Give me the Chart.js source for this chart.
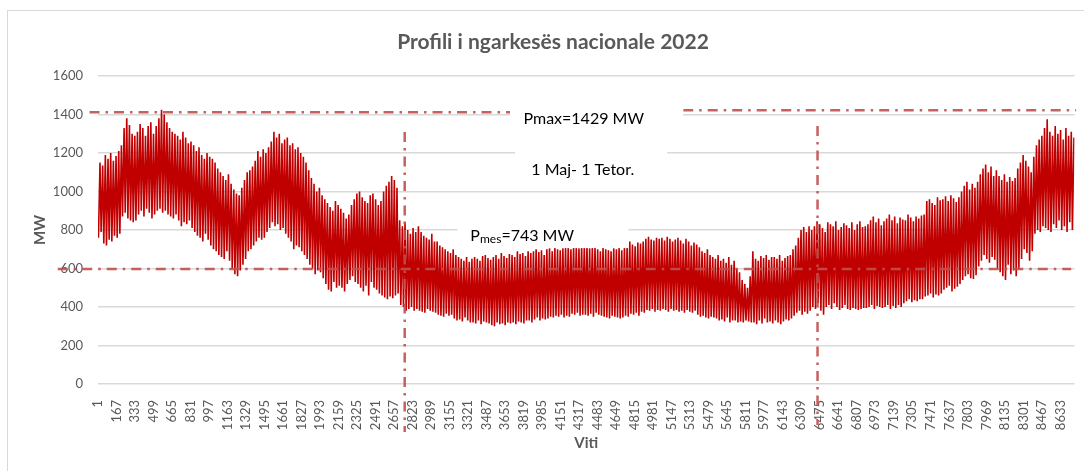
<!DOCTYPE html>
<html>
<head>
<meta charset="utf-8">
<script src="https://cdn.jsdelivr.net/npm/chart.js@4.4.1/dist/chart.umd.min.js"></script>
<style>
  html, body { margin: 0; padding: 0; background: #fff; }
  #chart { display: block; }
</style>
</head>
<body>
<canvas id="chart" width="1084" height="471"></canvas>
<script>
// --- Data: daily evening peak and night minimum, MW ---
const dailyPeak = [
  1150,1135,1190,1170,1200,1160,1185,
  1210,1240,1330,1380,1345,1300,1290,
  1310,1350,1330,1290,1340,1360,1300,
  1340,1380,1425,1400,1360,1330,1310,
  1300,1290,1270,1310,1280,1250,1260,
  1240,1210,1230,1190,1170,1200,1180,
  1170,1150,1120,1100,1080,1060,1090,
  1040,1010,990,980,1020,1060,1100,
  1110,1130,1160,1210,1180,1220,1200,
  1230,1260,1310,1280,1300,1250,1270,
  1280,1240,1250,1220,1230,1200,1180,
  1150,1110,1070,1040,1000,1020,980,
  960,940,920,900,950,930,910,
  890,860,880,930,960,990,1000,
  970,950,940,980,990,960,930,
  950,1000,1030,1050,1080,1060,1020,
  850,820,840,800,780,810,790,
  820,790,770,760,750,780,740,
  740,720,710,700,690,680,700,
  670,660,650,640,660,635,650,
  660,650,640,665,670,655,645,
  660,670,650,680,665,655,675,
  670,660,690,675,680,665,690,
  680,690,700,685,695,670,700,
  705,690,710,700,695,705,710,
  715,700,720,710,705,720,715,
  720,705,710,715,700,690,710,
  700,695,690,705,700,710,695,
  710,720,740,725,715,735,730,
  740,755,765,750,745,760,755,
  760,745,765,755,740,750,760,
  745,730,755,740,720,735,725,
  710,690,680,700,670,660,650,
  670,640,650,630,660,620,640,
  600,580,540,520,500,560,690,
  650,640,665,655,670,645,660,
  660,650,670,640,655,665,670,
  700,720,760,800,815,790,820,
  800,820,845,830,810,790,840,
  830,820,845,800,815,835,825,
  810,840,800,830,845,815,820,
  830,850,870,840,860,825,845,
  860,880,850,870,835,865,855,
  850,880,865,845,870,860,875,
  880,950,960,940,930,970,955,
  960,975,950,980,965,945,970,
  1000,1030,1050,1010,1040,1020,1050,
  1090,1120,1140,1100,1130,1080,1110,
  1080,1060,1090,1050,1075,1055,1070,
  1120,1150,1190,1160,1130,1100,1180,
  1240,1270,1290,1330,1375,1310,1290,
  1340,1300,1320,1270,1330,1290,1310,
  1280
];

const dailyLow = [
  760,790,730,720,750,740,770,
  760,780,870,890,860,850,840,
  850,880,900,870,910,890,860,
  880,900,910,890,900,880,870,
  860,880,850,820,840,830,850,
  810,790,770,760,740,780,750,
  720,700,690,670,660,650,690,
  640,600,570,560,590,620,650,
  690,700,720,740,760,750,760,
  790,810,840,820,830,800,810,
  780,760,740,700,720,710,690,
  670,650,620,600,570,590,580,
  550,520,490,480,530,500,510,
  500,480,520,540,560,530,520,
  500,480,510,460,530,500,490,
  470,460,450,440,455,445,460,
  470,410,400,380,390,400,380,
  390,380,375,370,390,380,375,
  370,360,355,350,365,355,360,
  340,330,335,325,345,330,320,
  320,315,330,310,325,320,315,
  305,300,320,310,315,305,320,
  315,320,310,325,320,315,330,
  330,320,335,345,330,340,335,
  340,350,345,355,350,360,345,
  355,350,365,360,370,355,360,
  360,355,365,350,370,360,355,
  350,345,340,355,350,345,340,
  345,355,350,365,360,370,355,
  375,370,385,380,390,375,385,
  380,390,385,375,390,380,385,
  375,380,370,385,375,370,380,
  360,350,355,345,340,350,345,
  340,330,335,325,345,320,330,
  330,320,325,320,330,325,320,
  320,310,330,315,340,320,325,
  315,330,320,310,325,335,330,
  340,355,370,380,360,375,365,
  380,400,390,420,380,360,400,
  410,390,420,400,385,395,410,
  390,385,395,390,385,390,395,
  395,400,410,390,405,400,395,
  400,410,390,405,395,410,400,
  420,430,440,425,435,430,440,
  440,455,460,470,450,465,460,
  470,490,500,510,480,495,505,
  520,540,560,570,550,545,565,
  610,640,670,650,630,660,645,
  600,580,560,540,620,570,590,
  560,600,650,700,680,640,690,
  780,800,790,820,810,800,790,
  830,810,850,800,820,790,840,
  800
];

// hour of the day where the low / peak falls
const lowHour = 5;
const peakHour = 19;

const hourTicks = [1,167,333,499,665,831,997,1163,1329,1495,1661,1827,1993,2159,2325,2491,2657,
  2823,2989,3155,3321,3487,3653,3819,3985,4151,4317,4483,4649,4815,4981,5147,5313,5479,5645,
  5811,5977,6143,6309,6475,6641,6807,6973,7139,7305,7471,7637,7803,7969,8135,8301,8467,8633];
const yTicks = [0, 200, 400, 600, 800, 1000, 1200, 1400, 1600];

// reference lines drawn on the chart (hour, MW)
const pMaxLevel = 1412;
const pMesLevel = 597;
const seasonStart = 2752;   // 1 Maj
const seasonEnd = 6455;     // 1 Tetor

// --- Build points ---
const loadPoints = [];
for (let d = 0; d < dailyPeak.length; d++) {
    loadPoints.push({ x: d * 24 + lowHour, y: dailyLow[d] });
    loadPoints.push({ x: d * 24 + peakHour, y: dailyPeak[d] });
}

const FONT = 'Lato, "Open Sans", sans-serif';
const GREY = '#595959';
const LINE_RED = 'rgba(192, 80, 77, 0.9)';

// Overlay: dash-dot lines, white text boxes, notes
const overlayPlugin = {
    id: 'overlay',
    afterDatasetsDraw(chart) {
        const { ctx, scales: { x, y } } = chart;
        const px = v => x.getPixelForValue(v);
        const py = v => y.getPixelForValue(v);

        ctx.save();
        ctx.strokeStyle = LINE_RED;
        ctx.lineWidth = 2.5;
        ctx.setLineDash([10, 6, 2.5, 6]);
        const seg = (x0, y0, x1, y1) => {
            ctx.beginPath();
            ctx.moveTo(px(x0), py(y0));
            ctx.lineTo(px(x1), py(y1));
            ctx.stroke();
        };
        seg(-75, pMaxLevel, 3698, pMaxLevel);
        seg(5250, pMaxLevel + 10, 8774, pMaxLevel + 10);
        seg(-360, pMesLevel, 8730, pMesLevel);
        seg(seasonStart, 1309, seasonStart, -249);
        seg(seasonEnd, 1340, seasonEnd, -213);
        ctx.setLineDash([]);

        // white boxes behind the notes
        ctx.fillStyle = '#ffffff';
        const box = (x0, y0, x1, y1) => {
            ctx.fillRect(px(x0), py(y0), px(x1) - px(x0), py(y1) - py(y0));
        };
        box(3698, 1475, 5250, 1290);
        box(3742, 1268, 5107, 1034);
        box(3225, 852, 4759, 706);

        ctx.fillStyle = '#000';
        ctx.textBaseline = 'middle';
        ctx.textAlign = 'center';
        ctx.font = '16px ' + FONT;
        ctx.fillText('Pmax=1429 MW', px(4358), py(1377));
        ctx.fillText('1 Maj- 1 Tetor.', px(4349), py(1112));

        // P with subscript "mes"
        ctx.textAlign = 'left';
        let tx = px(3341);
        const ty = py(769);
        ctx.fillText('P', tx, ty);
        tx += ctx.measureText('P').width;
        ctx.font = '12px ' + FONT;
        ctx.fillText('mes', tx, ty + 3);
        tx += ctx.measureText('mes').width;
        ctx.font = '16px ' + FONT;
        ctx.fillText('=743 MW', tx, ty);
        ctx.restore();
    },
    afterDraw(chart) {
        const { ctx, chartArea } = chart;
        ctx.save();
        // outer frame
        ctx.strokeStyle = '#d9d9d9';
        ctx.lineWidth = 1;
        ctx.strokeRect(7.5, 10.5, 1200, 600);

        ctx.fillStyle = GREY;
        ctx.textAlign = 'center';
        ctx.textBaseline = 'middle';
        ctx.font = 'bold 21px ' + FONT;
        ctx.fillText('Profili i ngarkesës nacionale 2022', 553, 42);

        ctx.font = 'bold 15px ' + FONT;
        ctx.fillText('Viti', (chartArea.left + chartArea.right) / 2, 443);

        ctx.translate(40, (chartArea.top + chartArea.bottom) / 2);
        ctx.rotate(-Math.PI / 2);
        ctx.fillText('MW', 0, 0);
        ctx.restore();
    }
};

new Chart(document.getElementById('chart'), {
    type: 'line',
    data: {
        datasets: [{
            label: 'Ngarkesa',
            data: loadPoints,
            borderColor: '#c00000',
            borderWidth: 1.6,
            pointRadius: 0,
            tension: 0,
            fill: false
        }]
    },
    options: {
        responsive: false,
        animation: false,
        parsing: false,
        layout: { padding: { top: 76, left: 0, right: 3, bottom: 0 } },
        plugins: {
            legend: { display: false },
            title: { display: false },
            tooltip: { enabled: false }
        },
        scales: {
            x: {
                type: 'linear',
                min: 1,
                max: 8760,
                grid: { display: false },
                border: { display: false },
                afterBuildTicks: scale => { scale.ticks = hourTicks.map(v => ({ value: v })); },
                afterFit: scale => { scale.height = 87; },
                ticks: {
                    autoSkip: false,
                    minRotation: 90,
                    maxRotation: 90,
                    padding: 8,
                    color: GREY,
                    font: { family: FONT, size: 13 },
                    callback: v => String(v)
                }
            },
            y: {
                min: 0,
                max: 1600,
                afterBuildTicks: scale => { scale.ticks = yTicks.map(v => ({ value: v })); },
                afterFit: scale => { scale.width = 98; },
                grid: { color: '#d9d9d9', lineWidth: 1.5, drawTicks: false },
                border: { display: false },
                ticks: {
                    padding: 15,
                    color: GREY,
                    font: { family: FONT, size: 13 },
                    callback: v => String(v)
                }
            }
        }
    },
    plugins: [overlayPlugin]
});
</script>
</body>
</html>
